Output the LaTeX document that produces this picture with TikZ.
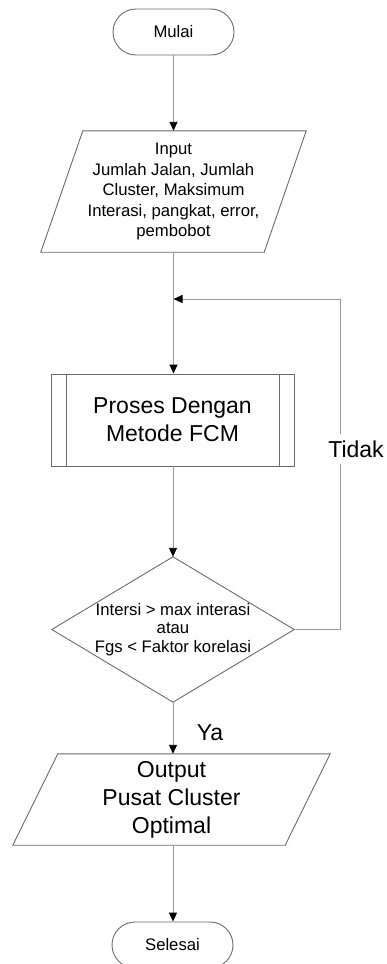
\documentclass[tikz,border=0pt]{standalone}
\usepackage{fontspec}
\setmainfont{Liberation Sans}
\usetikzlibrary{arrows.meta}
\definecolor{edgegray}{HTML}{6B6B6B}
\definecolor{linkgray}{HTML}{9A9A9A}
\tikzset{
  terminal/.style={draw=edgegray, line width=0.9pt, rounded corners=23pt,
    minimum width=121pt, minimum height=46pt, inner sep=0pt,
    font=\fontsize{16.7}{20.5}\selectfont},
  textblock/.style={inner sep=0pt, align=center},
  smalltext/.style={font=\fontsize{16.7}{20.5}\selectfont},
  bigtext/.style={font=\fontsize{23}{28}\selectfont},
  outline/.style={draw=edgegray, line width=0.9pt},
  link/.style={draw=linkgray, line width=0.9pt},
  arrowlink/.style={link, -{Triangle[length=9pt,width=8pt,color=black]}},
}
\begin{document}
\begin{tikzpicture}[x=1pt,y=-1pt]
  \useasboundingbox (0,0) rectangle (387,964);
  \clip (0,0) rectangle (387,964);

  % start terminator
  \node[terminal] (start) at (173.5,32) {Mulai};

  % input parallelogram
  \node[textblock, smalltext, minimum width=265pt, minimum height=121pt] (inp) at (173.5,191.5)
    {Input\\Jumlah Jalan, Jumlah\\Cluster, Maksimum\\Interasi, pangkat, error,\\pembobot};
  \draw[outline] ([xshift=42pt]inp.north west) -- (inp.north east)
    -- ([xshift=-42pt]inp.south east) -- (inp.south west) -- cycle;

  % predefined process box
  \node[textblock, bigtext, outline, minimum width=243pt, minimum height=92pt] (proc) at (172.5,420)
    {Proses Dengan\\Metode FCM};
  \draw[outline] ([xshift=16pt]proc.north west) -- ([xshift=16pt]proc.south west);
  \draw[outline] ([xshift=-15pt]proc.north east) -- ([xshift=-15pt]proc.south east);

  % decision diamond
  \node[textblock, font=\fontsize{16.7}{18.5}\selectfont, minimum width=242pt, minimum height=145pt] (dec) at (173,629.5)
    {Intersi > max interasi\\atau\\Fgs < Faktor korelasi};
  \draw[outline] (dec.north) -- (dec.east) -- (dec.south) -- (dec.west) -- cycle;

  % output parallelogram
  \node[textblock, bigtext, minimum width=317pt, minimum height=91pt] (out) at (171.5,799.5)
    {Output\\Pusat Cluster\\Optimal};
  \draw[outline] ([xshift=45pt]out.north west) -- (out.north east)
    -- ([xshift=-45pt]out.south east) -- (out.south west) -- cycle;

  % end terminator
  \node[terminal] (stop) at (172.5,945) {Selesai};

  % connectors
  \coordinate (join) at (173.5,299);
  \coordinate (loopcorner) at (340,299);
  \draw[arrowlink] (start.south) -- (inp.north);
  \draw[arrowlink] (inp.south) -- (proc.north -| inp.south);
  \draw[arrowlink] (proc.south -| dec.north) -- (dec.north);
  \draw[link] (dec.east) -- (dec.east -| loopcorner) -- (loopcorner);
  \draw[arrowlink] (loopcorner) -- (join);
  \draw[arrowlink] (dec.south) -- (out.north -| dec.south);
  \draw[arrowlink] (out.south -| dec.south) -- (stop.north -| dec.south);

  % branch labels
  \node[bigtext, fill=white, inner xsep=2pt, inner ysep=7pt] (no) at (356,449) {Tidak};
  \node[bigtext, inner sep=0pt] (yes) at (210,733) {Ya};
\end{tikzpicture}
\end{document}
